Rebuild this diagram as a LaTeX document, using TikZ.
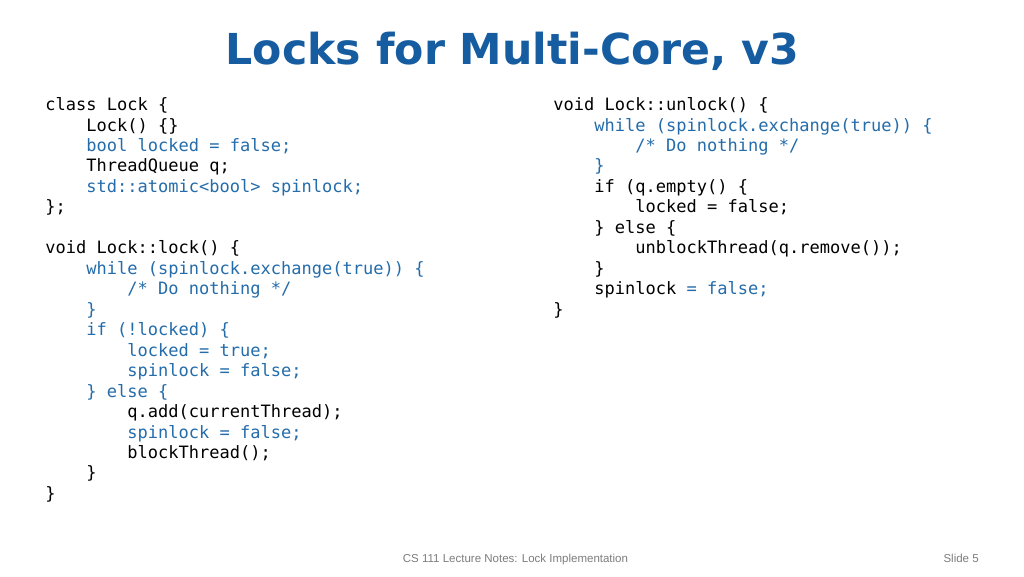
\documentclass[tikz,border=0pt]{standalone}
\usepackage{fontspec}
\setmainfont{Liberation Sans}
\newfontfamily\codefont{DejaVu Sans Mono}
\newfontfamily\titlefont{DejaVu Sans Bold}
\definecolor{titleblue}{RGB}{22,92,160}
\definecolor{codeblue}{RGB}{36,108,170}
\definecolor{footgray}{RGB}{125,125,125}
% indentation of four characters, and blue code
\newcommand{\pad}{\hphantom{0000}}
\newcommand{\bl}[1]{\textcolor{codeblue}{#1}}
\tikzset{
  code/.style={anchor=base west,inner sep=0pt,align=left,
    font=\codefont\fontsize{12.77}{15.35}\selectfont},
  foot/.style={inner sep=0pt,anchor=base,text=footgray,font=\fontsize{8.63}{10}\selectfont}
}
\begin{document}
\begin{tikzpicture}[x=0.75pt,y=-0.75pt]
  \useasboundingbox[fill=white] (0,0) rectangle (1024,576);
  % title
  \node[anchor=base,text=titleblue,font=\titlefont\fontsize{32}{36}\selectfont] (title) at (512.5,64) {Locks for Multi-Core, v3};
  % class and lock(), placed by the baseline of the last line
  \node[code] (lockcode) at (45,499.4) {class Lock \{\\
\pad Lock() \{\}\\
\pad\bl{bool locked = false;}\\
\pad ThreadQueue q;\\
\pad\bl{std::atomic<bool> spinlock;}\\
\};\\
~\\
void Lock::lock() \{\\
\pad\bl{while (spinlock.exchange(true)) \{}\\
\pad\pad\bl{/* Do nothing */}\\
\pad\bl{\}}\\
\pad\bl{if (!locked) \{}\\
\pad\pad\bl{locked = true;}\\
\pad\pad\bl{spinlock = false;}\\
\pad\bl{\} else \{}\\
\pad\pad q.add(currentThread);\\
\pad\pad\bl{spinlock = false;}\\
\pad\pad blockThread();\\
\pad\}\\
\}};
  % unlock()
  \node[code] (unlockcode) at (553,315.2) {void Lock::unlock() \{\\
\pad\bl{while (spinlock.exchange(true)) \{}\\
\pad\pad\bl{/* Do nothing */}\\
\pad\bl{\}}\\
\pad if (q.empty() \{\\
\pad\pad locked = false;\\
\pad\} else \{\\
\pad\pad unblockThread(q.remove());\\
\pad\}\\
\pad spinlock \bl{= false;}\\
\}};
  % footer
  \node[foot] (notes) at (515.5,562) {CS 111 Lecture Notes: Lock Implementation};
  \node[foot,anchor=base east] (slide) at (979,562) {Slide 5};
\end{tikzpicture}
\end{document}
